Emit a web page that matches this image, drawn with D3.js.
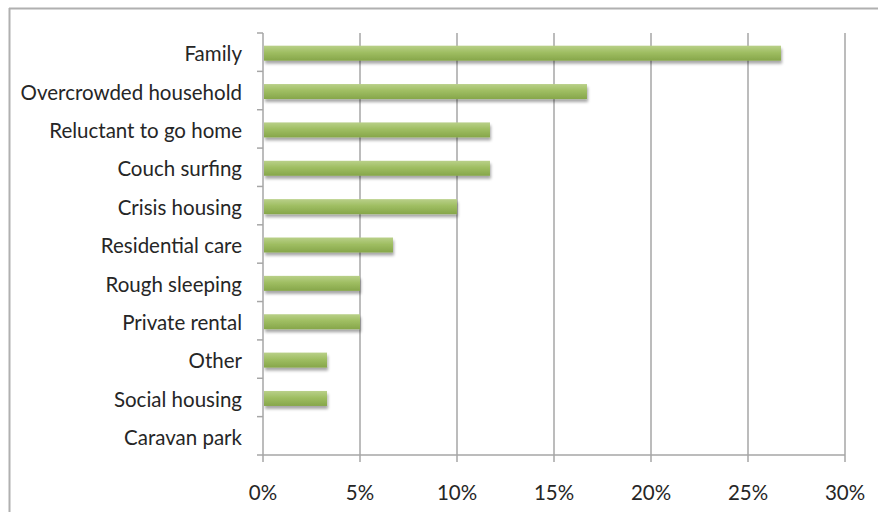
<!DOCTYPE html>
<html>
<head>
<meta charset="utf-8">
<script src="https://cdn.jsdelivr.net/npm/d3@7"></script>
<style>
  html, body { margin: 0; padding: 0; background: #fff; }
  svg { display: block; }
  text { font-family: Lato, "Open Sans", sans-serif; fill: #262626; }
</style>
</head>
<body>
<div id="chart"></div>
<script>
// Living situation categories (top to bottom) and share of respondents (%)
const categories = [
  "Family", "Overcrowded household", "Reluctant to go home", "Couch surfing",
  "Crisis housing", "Residential care", "Rough sleeping", "Private rental",
  "Other", "Social housing", "Caravan park"
];
const values = [26.7, 16.7, 11.7, 11.7, 10.0, 6.7, 5.0, 5.0, 3.3, 3.3, 0];
const xTicks = [0, 5, 10, 15, 20, 25, 30];

const W = 878, H = 512;
const m = { left: 263, right: 33, top: 33, bottom: 57 };
const fontSize = 20.5;

const svg = d3.select("#chart").append("svg")
  .attr("width", W).attr("height", H);

const defs = svg.append("defs");
const grad = defs.append("linearGradient")
  .attr("id", "barGrad").attr("x1", 0).attr("y1", 0).attr("x2", 0).attr("y2", 1);
grad.append("stop").attr("offset", "0%").attr("stop-color", "#b9d089");
grad.append("stop").attr("offset", "45%").attr("stop-color", "#9fbe62");
grad.append("stop").attr("offset", "100%").attr("stop-color", "#86a64a");

const shadow = defs.append("filter").attr("id", "barShadow")
  .attr("x", "-5%").attr("y", "-40%").attr("width", "110%").attr("height", "200%");
shadow.append("feGaussianBlur").attr("in", "SourceAlpha").attr("stdDeviation", 1.6);
shadow.append("feOffset").attr("dx", 1).attr("dy", 2.5).attr("result", "off");
shadow.append("feComponentTransfer").append("feFuncA").attr("type", "linear").attr("slope", 0.35);
const merge = shadow.append("feMerge");
merge.append("feMergeNode");
merge.append("feMergeNode").attr("in", "SourceGraphic");

// Outer chart frame: left and top edges
svg.append("line").attr("x1", 9.5).attr("x2", 9.5).attr("y1", 8).attr("y2", H)
  .attr("stroke", "#b0b0b0").attr("stroke-width", 2);
svg.append("line").attr("x1", 9).attr("x2", W).attr("y1", 8.5).attr("y2", 8.5)
  .attr("stroke", "#b0b0b0").attr("stroke-width", 2);

const x = d3.scaleLinear().domain([0, 30]).range([m.left, W - m.right]);
const y = d3.scaleBand().domain(categories).range([m.top, H - m.bottom]).padding(0);

// Vertical gridlines
svg.append("g").selectAll("line").data(xTicks.slice(1)).join("line")
  .attr("x1", d => x(d)).attr("x2", d => x(d))
  .attr("y1", m.top).attr("y2", H - m.bottom)
  .attr("stroke", "#a6a6a6").attr("stroke-width", 1.5);

// Bars
const barH = 15;
svg.append("g").selectAll("rect").data(values).join("rect")
  .attr("x", x(0) + 1)
  .attr("y", (d, i) => y(categories[i]) + y.bandwidth() / 2 - barH / 2 + 1)
  .attr("width", d => Math.max(0, x(d) - x(0) - 1))
  .attr("height", d => d > 0 ? barH : 0)
  .attr("fill", "url(#barGrad)")
  .attr("filter", "url(#barShadow)");

// Category axis
const yAxis = svg.append("g").attr("transform", `translate(${m.left},0)`);
yAxis.append("line").attr("x1", 0).attr("x2", 0)
  .attr("y1", m.top).attr("y2", H - m.bottom)
  .attr("stroke", "#a6a6a6").attr("stroke-width", 1.5);
const bounds = categories.map(c => y(c)).concat([H - m.bottom]);
yAxis.selectAll(".tk").data(bounds).join("line").attr("class", "tk")
  .attr("x1", -6).attr("x2", 0).attr("y1", d => d).attr("y2", d => d)
  .attr("stroke", "#a6a6a6").attr("stroke-width", 1.5);
yAxis.selectAll("text").data(categories).join("text")
  .attr("x", -21).attr("y", d => y(d) + y.bandwidth() / 2 + 2)
  .attr("dy", "0.35em").attr("text-anchor", "end")
  .attr("font-size", fontSize).text(d => d);

// Value axis
const xAxis = svg.append("g");
xAxis.append("line").attr("x1", m.left).attr("x2", x(30))
  .attr("y1", H - m.bottom).attr("y2", H - m.bottom)
  .attr("stroke", "#a6a6a6").attr("stroke-width", 1.5);
xAxis.selectAll(".tk").data(xTicks).join("line").attr("class", "tk")
  .attr("x1", d => x(d)).attr("x2", d => x(d))
  .attr("y1", H - m.bottom).attr("y2", H - m.bottom + 7)
  .attr("stroke", "#a6a6a6").attr("stroke-width", 1.5);
xAxis.selectAll("text").data(xTicks).join("text")
  .attr("x", d => x(d)).attr("y", H - m.bottom + 45)
  .attr("text-anchor", "middle").attr("font-size", fontSize)
  .text(d => d + "%");
</script>
</body>
</html>
